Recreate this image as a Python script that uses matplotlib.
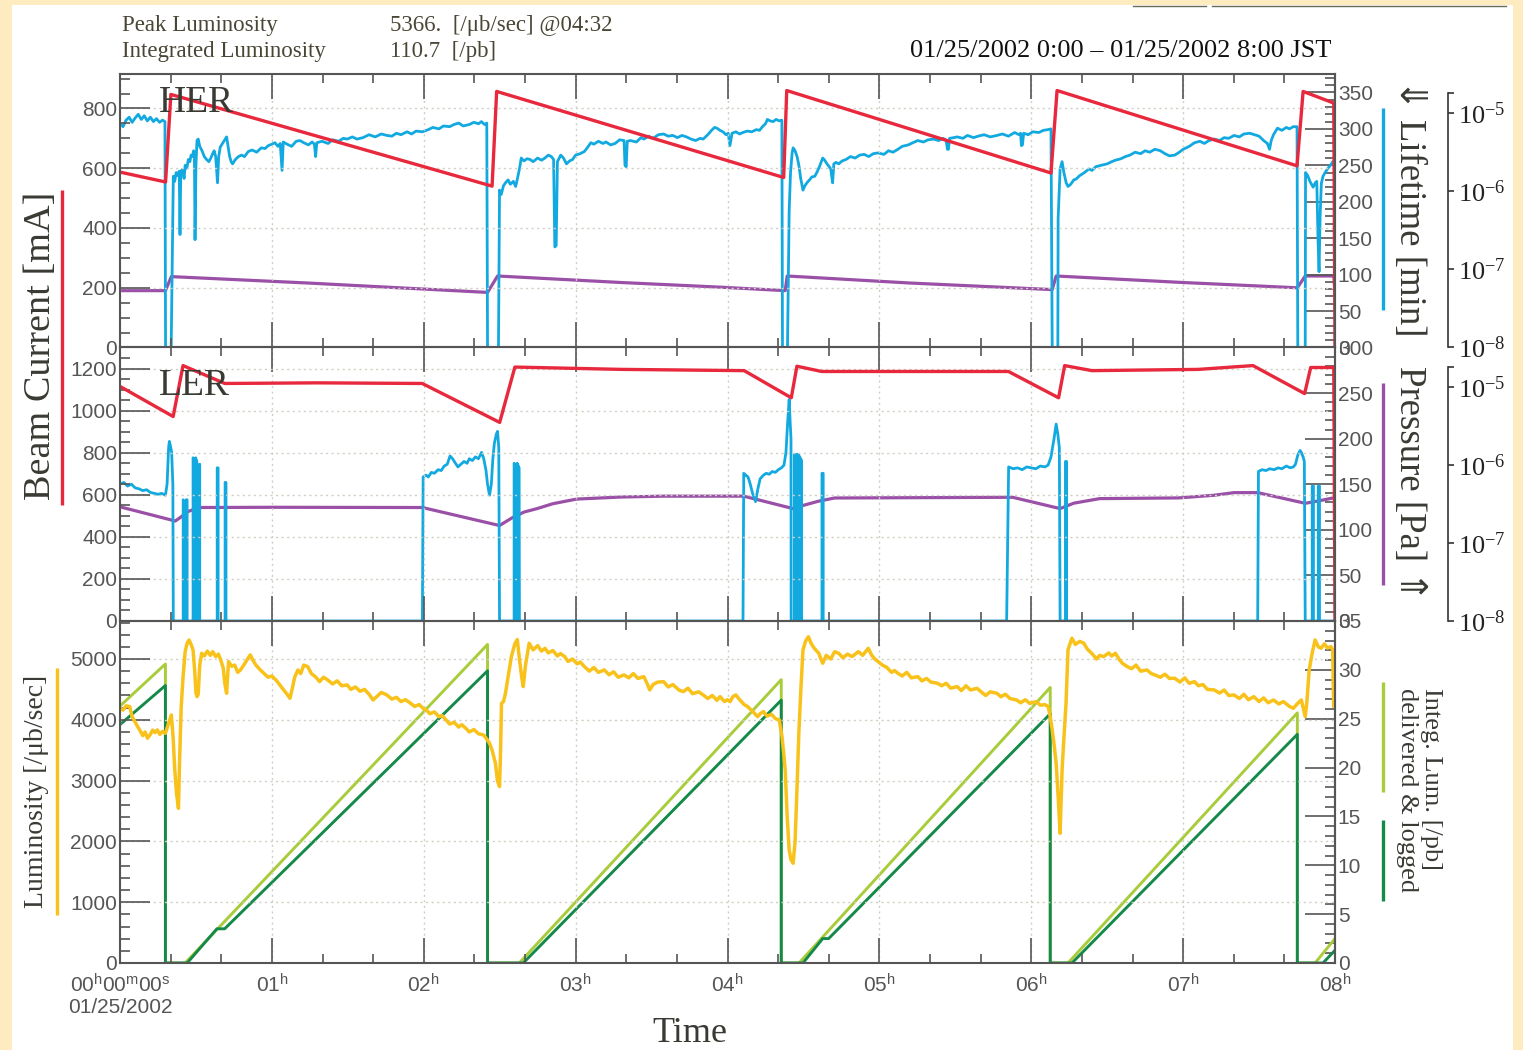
import matplotlib
matplotlib.use("Agg")
import matplotlib.pyplot as plt
from matplotlib.ticker import MultipleLocator, FixedLocator, FixedFormatter, NullLocator
from matplotlib.lines import Line2D
from matplotlib.patches import Rectangle

# ---------------------------------------------------------------- data
# time axis in hours after 01/25/2002 00:00 JST

# HER beam current [mA]
her_cur_t = [0.0, 0.300, 0.335, 2.450, 2.480, 4.370, 4.390, 6.130, 6.170, 7.750, 7.790, 7.992, 8.0]
her_cur = [587, 554, 847, 540, 857, 569, 860, 584, 860, 608, 857, 818, 0]

# HER beam lifetime [min]
her_lt_t = [
    0.00, 0.02, 0.04, 0.06, 0.08, 0.10, 0.12, 0.14, 0.16, 0.18, 0.20, 0.22, 0.24, 0.26, 0.28, 0.296,
    0.300, 0.337,
    0.351, 0.360, 0.370, 0.380, 0.390, 0.395, 0.400, 0.408, 0.416, 0.422, 0.429, 0.440, 0.450, 0.460,
    0.468, 0.476, 0.485, 0.490, 0.494, 0.500, 0.507, 0.515, 0.525, 0.540, 0.555, 0.570, 0.585, 0.598,
    0.610, 0.620, 0.630, 0.642, 0.650, 0.660, 0.675, 0.690, 0.702, 0.712, 0.722, 0.732, 0.741, 0.760,
    0.780, 0.800, 0.820, 0.845, 0.870, 0.900, 0.930, 0.955, 0.976, 1.000, 1.020, 1.040, 1.055, 1.067,
    1.075, 1.100, 1.130, 1.160, 1.184, 1.210, 1.240, 1.265, 1.280, 1.288, 1.296, 1.330, 1.370, 1.400,
    1.440, 1.470, 1.496, 1.530, 1.560, 1.600, 1.640, 1.680, 1.720, 1.757, 1.790, 1.820, 1.850, 1.890,
    1.920, 1.950, 1.991, 2.030, 2.060, 2.100, 2.130, 2.170, 2.199, 2.230, 2.260, 2.300, 2.330, 2.360,
    2.380, 2.400, 2.415,
    2.420, 2.492,
    2.499, 2.510, 2.525, 2.538, 2.555, 2.570, 2.590, 2.605, 2.616, 2.630, 2.642, 2.660, 2.680, 2.700,
    2.720, 2.750, 2.775, 2.798, 2.820, 2.840, 2.855, 2.863, 2.872, 2.880, 2.902, 2.920, 2.940, 2.960,
    2.980, 3.000, 3.030, 3.058, 3.080, 3.100, 3.120, 3.150, 3.180, 3.200, 3.230, 3.260, 3.290, 3.319,
    3.325, 3.333, 3.340, 3.360, 3.400, 3.430, 3.450, 3.480, 3.510, 3.545, 3.579, 3.610, 3.640, 3.670,
    3.700, 3.730, 3.760, 3.790, 3.820, 3.840, 3.870, 3.895, 3.915, 3.930, 3.951, 3.970, 3.990, 4.005,
    4.016, 4.030, 4.055, 4.080, 4.100, 4.130, 4.160, 4.190, 4.211, 4.230, 4.250, 4.263, 4.280, 4.300,
    4.320, 4.340, 4.358,
    4.362, 4.395,
    4.406, 4.415, 4.425, 4.432, 4.445, 4.458, 4.470, 4.482, 4.497, 4.510, 4.523, 4.540, 4.555, 4.575,
    4.590, 4.605, 4.627, 4.640, 4.655, 4.670, 4.680, 4.692, 4.700, 4.715, 4.732, 4.755, 4.780, 4.810,
    4.840, 4.870, 4.900, 4.930, 4.960, 4.992, 5.030, 5.060, 5.090, 5.122, 5.150, 5.190, 5.220, 5.253,
    5.290, 5.320, 5.357, 5.390, 5.420, 5.440, 5.448, 5.455, 5.462, 5.490, 5.513, 5.550, 5.580, 5.620,
    5.650, 5.690, 5.730, 5.774, 5.810, 5.850, 5.890, 5.920, 5.930, 5.935, 5.942, 5.950, 5.980, 6.010,
    6.050, 6.080, 6.111, 6.130,
    6.138, 6.175,
    6.177, 6.190, 6.203, 6.215, 6.230, 6.242, 6.260, 6.280, 6.294, 6.320, 6.350, 6.380, 6.400, 6.424,
    6.460, 6.500, 6.530, 6.554, 6.590, 6.620, 6.650, 6.684, 6.720, 6.750, 6.780, 6.814, 6.850, 6.880,
    6.910, 6.945, 6.975, 7.000, 7.040, 7.075, 7.110, 7.140, 7.170, 7.205, 7.240, 7.270, 7.300, 7.335,
    7.370, 7.400, 7.439, 7.470, 7.500, 7.530, 7.555, 7.569, 7.580, 7.595, 7.621, 7.650, 7.680, 7.700,
    7.725, 7.750,
    7.755, 7.804,
    7.806, 7.820, 7.835, 7.856, 7.870, 7.880, 7.888, 7.895, 7.902, 7.910, 7.921, 7.935, 7.950, 7.970,
    7.986, 8.000,
]
her_lt = [
    308, 303, 312, 316, 309, 315, 320, 313, 318, 311, 316, 310, 314, 309, 312, 310,
    0, 0,
    235, 228, 240, 236, 242, 155, 238, 244, 240, 232, 250, 246, 258, 255,
    264, 262, 270, 262, 148, 250, 284, 286, 276, 270, 262, 258, 255, 260,
    266, 270, 262, 226, 262, 275, 280, 285, 289, 275, 262, 255, 252, 258,
    262, 264, 262, 269, 271, 268, 274, 273, 277, 279, 281, 276, 280, 243,
    282, 279, 276, 283, 284, 281, 278, 282, 279, 262, 281, 283, 280, 285,
    283, 287, 286, 289, 286, 288, 292, 289, 293, 291, 290, 294, 292, 296,
    293, 297, 296, 299, 302, 300, 304, 303, 306, 308, 304, 306, 309, 307,
    310, 306, 308,
    0, 0,
    216, 210, 222, 226, 230, 224, 228, 221, 231, 245, 260, 256, 259, 258,
    255, 260, 257, 260, 264, 262, 258, 138, 140, 255, 264, 260, 252, 256,
    258, 264, 266, 269, 275, 281, 279, 283, 280, 282, 278, 280, 285, 284,
    250, 248, 283, 284, 282, 288, 286, 290, 287, 292, 293, 290, 291, 288,
    291, 289, 286, 284, 287, 286, 292, 298, 302, 301, 298, 296, 292, 294,
    277, 294, 296, 293, 295, 297, 296, 299, 298, 303, 307, 313, 311, 310,
    313, 311, 312,
    0, 0,
    187, 240, 266, 274, 270, 262, 250, 232, 216, 222, 226, 230, 234, 235,
    241, 248, 260, 257, 252, 248, 245, 226, 252, 254, 252, 256, 258, 262,
    260, 264, 265, 262, 266, 267, 265, 270, 268, 272, 276, 278, 281, 284,
    282, 285, 286, 284, 287, 284, 272, 272, 287, 288, 289, 287, 291, 288,
    290, 292, 289, 291, 293, 290, 295, 292, 294, 277, 278, 294, 292, 296,
    295, 298, 299, 300,
    0, 0,
    177, 245, 255, 240, 226, 221, 224, 230, 231, 236, 240, 245, 243, 248,
    250, 252, 255, 257, 259, 262, 264, 268, 266, 270, 268, 272, 270, 266,
    263, 264, 268, 272, 276, 281, 283, 280, 284, 286, 284, 288, 287, 291,
    289, 293, 294, 292, 290, 284, 280, 272, 284, 292, 301, 298, 302, 300,
    303, 303,
    0, 0,
    240, 236, 228, 220, 226, 228, 150, 104, 180, 225, 235, 240, 245, 250,
    255, 258,
]

# HER vacuum pressure [Pa]
her_p_t = [0.0, 0.299, 0.338, 1.236, 2.420, 2.486, 3.300, 3.951, 4.380, 4.393, 5.200, 6.138, 6.164,
           7.000, 7.752, 7.804, 7.992, 8.0]
her_p = [5.35e-8, 5.35e-8, 8.09e-8, 6.7e-8, 5.08e-8, 8.24e-8, 6.8e-8, 5.93e-8, 5.35e-8, 8.24e-8,
         6.7e-8, 5.52e-8, 8.24e-8, 6.8e-8, 5.82e-8, 8.24e-8, 8.24e-8, 5.0e-8]

# LER beam current [mA]
ler_cur_t = [0.0, 0.350, 0.415, 0.690, 1.300, 1.990, 2.500, 2.600, 3.300, 4.110, 4.420, 4.457,
             4.620, 5.850, 6.180, 6.220, 6.400, 7.100, 7.460, 7.800, 7.840, 7.992, 8.0]
ler_cur = [1115, 972, 1214, 1129, 1132, 1129, 944, 1207, 1196, 1190, 1061, 1211,
           1186, 1186, 1061, 1214, 1190, 1196, 1214, 1081, 1205, 1205, 0]

# LER beam lifetime [min]
ler_lt_t = [
    0.000, 0.025, 0.050, 0.075, 0.100, 0.125, 0.150, 0.175, 0.200, 0.225, 0.250, 0.275, 0.299, 0.310,
    0.320, 0.325, 0.332, 0.340, 0.348, 0.351,
    0.416, 0.416, 0.425, 0.430, 0.436, 0.436, 0.442, 0.442,
    0.481, 0.481, 0.490, 0.492, 0.498, 0.498, 0.506, 0.508, 0.514, 0.514, 0.525, 0.525,
    0.640, 0.640, 0.646, 0.646,
    0.692, 0.692, 0.698, 0.698,
    1.991, 1.996, 2.015, 2.030, 2.050, 2.070, 2.095, 2.115, 2.135, 2.155, 2.173, 2.190, 2.205, 2.225,
    2.245, 2.265, 2.285, 2.300, 2.320, 2.340, 2.360, 2.381, 2.395, 2.410, 2.420, 2.433, 2.445, 2.455,
    2.465, 2.478, 2.486, 2.494, 2.499,
    2.595, 2.595, 2.605, 2.607, 2.615, 2.615, 2.628, 2.630,
    4.102, 4.107, 4.120, 4.135, 4.150, 4.165, 4.185, 4.200, 4.215, 4.237, 4.255, 4.275, 4.295, 4.315,
    4.335, 4.355, 4.372, 4.385, 4.395, 4.406, 4.412, 4.418, 4.419,
    4.440, 4.440, 4.452, 4.452, 4.458, 4.458, 4.470, 4.470, 4.475, 4.475, 4.488, 4.488,
    4.622, 4.622, 4.630, 4.630,
    5.838, 5.851, 5.880, 5.910, 5.940, 5.970, 6.000, 6.030, 6.060, 6.090, 6.111, 6.130, 6.150, 6.164,
    6.175, 6.185, 6.190,
    6.225, 6.225, 6.233, 6.233,
    7.491, 7.496, 7.520, 7.545, 7.570, 7.600, 7.625, 7.650, 7.680, 7.705, 7.726, 7.740, 7.755, 7.770,
    7.778, 7.790, 7.798, 7.804,
    7.850, 7.850, 7.858, 7.858, 7.890, 7.890, 7.898, 7.898,
    8.000,
]
ler_lt = [
    150, 152, 148, 150, 146, 145, 143, 144, 141, 140, 139, 140, 138, 150,
    190, 197, 192, 185, 150, 0,
    0, 133, 128, 0, 0, 133, 133, 0,
    0, 179, 176, 0, 0, 179, 175, 0, 0, 170, 172, 0,
    0, 168, 168, 0,
    0, 152, 152, 0,
    0, 158, 160, 158, 163, 162, 166, 165, 170, 172, 181, 178, 174, 169,
    172, 175, 173, 178, 176, 180, 178, 185, 178, 165, 150, 138, 150, 178,
    195, 205, 208, 190, 0,
    0, 173, 170, 0, 0, 173, 168, 0,
    0, 162, 160, 158, 150, 140, 131, 145, 156, 160, 162, 161, 164, 163,
    166, 168, 171, 185, 215, 243, 220, 200, 0,
    0, 183, 180, 0, 0, 183, 182, 0, 0, 180, 176, 0,
    0, 162, 162, 0,
    0, 169, 167, 168, 166, 169, 168, 167, 170, 169, 171, 180, 200, 216,
    205, 190, 0,
    0, 175, 175, 0,
    0, 164, 166, 165, 167, 166, 168, 167, 170, 168, 169, 172, 182, 187,
    185, 180, 175, 0,
    0, 148, 148, 0, 0, 148, 148, 0,
    0,
]

# LER vacuum pressure [Pa]
ler_p_t = [0.0, 0.364, 0.400, 0.450, 0.520, 1.000, 1.991, 2.499, 2.580, 2.660, 2.746, 2.850, 3.006,
           3.300, 3.579, 4.107, 4.432, 4.500, 4.600, 4.705, 5.877, 6.190, 6.280, 6.450, 6.970, 7.200,
           7.335, 7.491, 7.804, 7.900, 7.986]
ler_p = [2.92e-7, 1.92e-7, 2.15e-7, 2.55e-7, 2.86e-7, 2.88e-7, 2.86e-7, 1.68e-7, 2.1e-7, 2.5e-7,
         2.77e-7, 3.2e-7, 3.67e-7, 3.9e-7, 4.0e-7, 4.0e-7, 2.77e-7, 3.05e-7, 3.45e-7, 3.79e-7,
         3.87e-7, 2.77e-7, 3.25e-7, 3.72e-7, 3.8e-7, 4.1e-7, 4.44e-7, 4.44e-7, 3.24e-7, 3.5e-7,
         3.79e-7]

# luminosity [/ub/sec]
lum_t = [
    0.000, 0.020, 0.040, 0.064, 0.080, 0.100, 0.116, 0.135, 0.150, 0.165, 0.181, 0.200, 0.215, 0.230,
    0.246, 0.262, 0.280, 0.299, 0.315, 0.330, 0.338, 0.350, 0.360, 0.372, 0.385, 0.392, 0.403, 0.415,
    0.429, 0.442, 0.455, 0.468, 0.481, 0.492, 0.500, 0.507, 0.515, 0.525, 0.538, 0.555, 0.575, 0.595,
    0.611, 0.630, 0.648, 0.663, 0.680, 0.690, 0.702, 0.708, 0.715, 0.735, 0.755, 0.775, 0.793, 0.815,
    0.840, 0.858, 0.875, 0.895, 0.924, 0.950, 0.975, 1.000, 1.027, 1.050, 1.075, 1.100, 1.119, 1.135,
    1.150, 1.171, 1.190, 1.210, 1.236, 1.260, 1.290, 1.314, 1.340, 1.370, 1.400, 1.430, 1.460, 1.496,
    1.520, 1.550, 1.580, 1.610, 1.640, 1.666, 1.690, 1.720, 1.757, 1.790, 1.820, 1.850, 1.880, 1.913,
    1.940, 1.970, 2.000, 2.017, 2.040, 2.070, 2.100, 2.120, 2.147, 2.170, 2.200, 2.230, 2.250, 2.277,
    2.300, 2.330, 2.360, 2.394, 2.410, 2.433, 2.450, 2.472, 2.485, 2.499, 2.505, 2.512, 2.525, 2.538,
    2.555, 2.577, 2.600, 2.616, 2.630, 2.645, 2.655, 2.670, 2.694, 2.720, 2.750, 2.775, 2.798, 2.820,
    2.850, 2.880, 2.900, 2.928, 2.950, 2.980, 3.010, 3.030, 3.058, 3.090, 3.120, 3.150, 3.189, 3.220,
    3.250, 3.280, 3.319, 3.350, 3.380, 3.410, 3.449, 3.470, 3.488, 3.510, 3.540, 3.579, 3.610, 3.640,
    3.680, 3.709, 3.740, 3.770, 3.810, 3.840, 3.870, 3.900, 3.930, 3.951, 3.980, 4.000, 4.017, 4.035,
    4.055, 4.080, 4.110, 4.133, 4.160, 4.180, 4.198, 4.215, 4.237, 4.260, 4.290, 4.315, 4.341, 4.359,
    4.370, 4.380, 4.393, 4.406, 4.418, 4.432, 4.445, 4.458, 4.470, 4.484, 4.497, 4.515, 4.533, 4.550,
    4.570, 4.601, 4.615, 4.627, 4.650, 4.680, 4.705, 4.732, 4.760, 4.790, 4.820, 4.862, 4.890, 4.927,
    4.950, 4.970, 4.992, 5.020, 5.050, 5.080, 5.100, 5.122, 5.150, 5.180, 5.210, 5.253, 5.280, 5.310,
    5.340, 5.383, 5.410, 5.440, 5.470, 5.513, 5.540, 5.570, 5.600, 5.643, 5.670, 5.700, 5.730, 5.774,
    5.800, 5.830, 5.860, 5.904, 5.930, 5.960, 5.990, 6.034, 6.060, 6.090, 6.112, 6.125, 6.138, 6.150,
    6.164, 6.178, 6.190, 6.203, 6.215, 6.229, 6.242, 6.255, 6.268, 6.290, 6.320, 6.346, 6.370, 6.398,
    6.430, 6.450, 6.476, 6.510, 6.530, 6.554, 6.580, 6.600, 6.632, 6.660, 6.690, 6.720, 6.762, 6.790,
    6.814, 6.850, 6.880, 6.910, 6.945, 6.980, 7.010, 7.040, 7.075, 7.100, 7.130, 7.160, 7.205, 7.240,
    7.270, 7.300, 7.335, 7.370, 7.400, 7.430, 7.465, 7.500, 7.530, 7.560, 7.595, 7.630, 7.660, 7.700,
    7.726, 7.750, 7.778, 7.790, 7.804, 7.815, 7.830, 7.850, 7.869, 7.890, 7.908, 7.930, 7.950, 7.973,
    7.985, 7.991, 8.000,
]
lum = [
    4190, 4160, 4230, 4217, 4050, 3960, 3888, 3810, 3740, 3800, 3696, 3760, 3830, 3790,
    3833, 3760, 3810, 3778, 3900, 4020, 4080, 3700, 3200, 2791, 2544, 3300, 4217, 4700,
    5121, 5260, 5313, 5240, 5149, 4800, 4450, 4381, 4420, 4900, 5094, 5050, 5130, 5060,
    5121, 5040, 5080, 4984, 4850, 4600, 4436, 4700, 4957, 4880, 4900, 4780, 4820, 4900,
    5000, 5067, 4980, 4900, 4820, 4760, 4700, 4720, 4655, 4580, 4500, 4420, 4354, 4520,
    4700, 4820, 4760, 4900, 4875, 4760, 4700, 4628, 4700, 4650, 4590, 4640, 4560, 4573,
    4500, 4540, 4470, 4500, 4420, 4326, 4380, 4450, 4409, 4340, 4370, 4300, 4330, 4272,
    4220, 4250, 4180, 4162, 4100, 4130, 4050, 4070, 3997, 3930, 3960, 3880, 3920, 3860,
    3800, 3840, 3770, 3751, 3700, 3614, 3500, 3285, 3000, 2901, 3400, 4272, 4300, 4436,
    4700, 5039, 5250, 5320, 5000, 4700, 4546, 4900, 5259, 5150, 5220, 5130, 5176, 5100,
    5140, 5050, 5090, 5039, 4960, 5000, 4920, 4950, 4875, 4800, 4860, 4780, 4820, 4740,
    4790, 4700, 4738, 4690, 4760, 4680, 4710, 4600, 4491, 4580, 4620, 4628, 4540, 4580,
    4490, 4463, 4520, 4430, 4460, 4409, 4350, 4400, 4320, 4381, 4300, 4330, 4299, 4380,
    4409, 4330, 4250, 4217, 4150, 4100, 4052, 4100, 4135, 4060, 4090, 4020, 3997, 3723,
    3450, 3175, 2400, 1859, 1700, 1640, 2000, 2901, 3800, 4546, 5149, 5300, 5366, 5260,
    5180, 5094, 5000, 4930, 5060, 5000, 5120, 5094, 5020, 5080, 5040, 5121, 5060, 5176,
    5060, 5000, 4957, 4900, 4860, 4780, 4810, 4765, 4720, 4780, 4690, 4710, 4640, 4680,
    4620, 4601, 4560, 4600, 4520, 4546, 4480, 4560, 4490, 4518, 4460, 4400, 4460, 4436,
    4380, 4420, 4350, 4326, 4280, 4330, 4270, 4299, 4240, 4250, 4217, 4050, 3833, 3600,
    3285, 2700, 2133, 3175, 3700, 4272, 5149, 5250, 5341, 5240, 5290, 5259, 5160, 5094,
    5000, 5060, 5039, 5100, 5050, 5094, 4990, 4930, 4875, 4840, 4900, 4800, 4820, 4760,
    4738, 4700, 4750, 4680, 4683, 4620, 4690, 4600, 4628, 4560, 4580, 4500, 4491, 4440,
    4490, 4400, 4409, 4350, 4420, 4330, 4381, 4300, 4360, 4280, 4326, 4260, 4300, 4220,
    4189, 4260, 4326, 4200, 4052, 4300, 4820, 5100, 5313, 5200, 5176, 5250, 5180, 5204,
    5150, 4217, 4217,
]

# integrated luminosity [/pb]: delivered and logged
intl_del_t = [0.0, 0.299, 0.299, 0.429, 2.420, 2.420, 2.629, 4.354, 4.354, 4.471, 6.125, 6.125,
              6.242, 7.752, 7.752, 7.869, 8.0]
intl_del = [26.3, 30.6, 0, 0, 32.6, 0, 0, 29.0, 0, 0, 28.2, 0, 0, 25.6, 0, 0, 2.5]
intl_log_t = [0.0, 0.299, 0.299, 0.442, 0.638, 0.689, 2.420, 2.420, 2.655, 4.354, 4.354, 4.497,
              4.627, 4.666, 6.125, 6.125, 6.268, 7.752, 7.752, 7.921, 8.0]
intl_log = [24.4, 28.4, 0, 0, 3.5, 3.5, 29.9, 0, 0, 26.9, 0, 0, 2.5, 2.5, 25.5, 0, 0, 23.4, 0, 0, 1.3]

hour_ticks = [0, 1, 2, 3, 4, 5, 6, 7, 8]
hour_labels = ["00$^{\\mathsf{h}}$00$^{\\mathsf{m}}$00$^{\\mathsf{s}}$\n01/25/2002",
               "01$^{\\mathsf{h}}$", "02$^{\\mathsf{h}}$", "03$^{\\mathsf{h}}$", "04$^{\\mathsf{h}}$",
               "05$^{\\mathsf{h}}$", "06$^{\\mathsf{h}}$", "07$^{\\mathsf{h}}$", "08$^{\\mathsf{h}}$"]
decade_ticks = [1e-8, 1e-7, 1e-6, 1e-5]
decade_labels = ["10$^{-8}$", "10$^{-7}$", "10$^{-6}$", "10$^{-5}$"]

# ---------------------------------------------------------------- style
W, H = 1523, 1050
SERIF = ["Liberation Serif", "DejaVu Serif"]
SANS = ["Liberation Sans", "DejaVu Sans"]
plt.rcParams["font.family"] = SANS
plt.rcParams["mathtext.fontset"] = "custom"
plt.rcParams["mathtext.rm"] = "Liberation Serif"
plt.rcParams["mathtext.sf"] = "Liberation Sans"
plt.rcParams["mathtext.default"] = "rm"

RED = "#E8283C"
CYAN = "#12A9E0"
PURPLE = "#9B50A8"
YELLOW = "#F8C21A"
LGREEN = "#A8CC3A"
DGREEN = "#148A4A"
AXC = "#555555"
TXT = "#3a3a34"
PALE = "#FFEBC0"
GRID = "#cfcfc4"

fig = plt.figure(figsize=(W / 100, H / 100), dpi=100)
fig.patch.set_facecolor("white")


def fx(x):
    return x / W


def fy(y):
    return 1 - y / H


# pale page border
for (x0, y0, x1, y1) in [(0, 0, 12, H), (0, 0, W, 5), (1513, 0, W, H)]:
    fig.add_artist(Rectangle((fx(x0), fy(y1)), (x1 - x0) / W, (y1 - y0) / H,
                             transform=fig.transFigure, color=PALE, zorder=-10, lw=0))
for (x0, x1) in [(1133, 1206), (1212, 1506)]:
    fig.add_artist(Line2D([fx(x0), fx(x1)], [fy(6), fy(6)], color="#6a6a5a", lw=1.0))


def panel(y0, y1):
    return fig.add_axes([fx(120), fy(y1), (1335 - 120) / W, (y1 - y0) / H])


def style_host(ax, ymax, major, minor, show_x_labels=False):
    ax.set_xlim(0, 8)
    ax.set_ylim(0, ymax)
    ax.xaxis.set_major_locator(FixedLocator(hour_ticks))
    ax.xaxis.set_minor_locator(MultipleLocator(1 / 3))
    ax.yaxis.set_major_locator(MultipleLocator(major))
    ax.yaxis.set_minor_locator(MultipleLocator(minor))
    ax.tick_params(axis="x", which="major", direction="in", length=18, width=1.2, color=AXC,
                   top=True, bottom=True, labelbottom=show_x_labels, labelsize=15,
                   labelcolor="#555555", pad=7)
    ax.tick_params(axis="x", which="minor", direction="in", length=6.5, width=1.2, color=AXC,
                   top=True, bottom=True)
    ax.tick_params(axis="y", which="major", direction="in", length=21.6, width=1.2, color=AXC,
                   left=True, right=False, labelsize=15, labelcolor="#555555", pad=2)
    ax.tick_params(axis="y", which="minor", direction="in", length=7.2, width=1.2, color=AXC,
                   left=True, right=False)
    ax.grid(True, which="major", color=GRID, ls=(0, (1.5, 2.5)), lw=1.0)
    for s in ax.spines.values():
        s.set_color(AXC)
        s.set_linewidth(1.5)
    ax.patch.set_visible(False)
    ax.set_zorder(3)
    if show_x_labels:
        ax.xaxis.set_major_formatter(FixedFormatter(hour_labels))


def style_right(ax, ymax, major, minor):
    ax.set_ylim(0, ymax)
    ax.yaxis.set_major_locator(MultipleLocator(major))
    ax.yaxis.set_minor_locator(MultipleLocator(minor))
    ax.tick_params(axis="y", which="major", direction="in", length=21.6, width=1.2, color=AXC,
                   labelsize=15, labelcolor="#555555", pad=2)
    ax.tick_params(axis="y", which="minor", direction="in", length=7.2, width=1.2, color=AXC)
    for name, s in ax.spines.items():
        s.set_visible(name == "right")
        s.set_color(AXC)
        s.set_linewidth(1.5)
    ax.set_zorder(2)


def pressure_axis(host):
    ax = host.twinx()
    ax.set_yscale("log")
    ax.set_ylim(1e-8, 10 ** -4.49)
    for name, s in ax.spines.items():
        s.set_visible(name == "right")
    sp = ax.spines["right"]
    sp.set_position(("axes", (1448 - 120) / 1215))
    sp.set_bounds(1e-8, 10 ** -4.74)
    sp.set_color("#333333")
    sp.set_linewidth(1.2)
    ax.yaxis.set_major_locator(FixedLocator(decade_ticks + [10 ** -4.74]))
    ax.yaxis.set_major_formatter(FixedFormatter(decade_labels + [""]))
    ax.yaxis.set_minor_locator(NullLocator())
    ax.tick_params(axis="y", which="major", direction="out", length=4.5, width=1.2,
                   color="#333333", labelsize=19, labelcolor="#222222", pad=3,
                   labelfontfamily="Liberation Serif")
    ax.set_zorder(1)
    return ax


# ---------------------------------------------------------------- HER panel
ax_her = panel(73.5, 347.5)
style_host(ax_her, 917, 200, 50)
ax_her_lt = ax_her.twinx()
style_right(ax_her_lt, 376, 50, 10)
ax_her_p = pressure_axis(ax_her)
ax_her_p.plot(her_p_t, her_p, color=PURPLE, lw=2.3)
ax_her_lt.plot(her_lt_t, her_lt, color=CYAN, lw=2.0)
ax_her.plot(her_cur_t, her_cur, color=RED, lw=2.4)

# ---------------------------------------------------------------- LER panel
ax_ler = panel(347.5, 621)
style_host(ax_ler, 1300, 200, 50)
ax_ler_lt = ax_ler.twinx()
style_right(ax_ler_lt, 300, 50, 10)
ax_ler_p = pressure_axis(ax_ler)
ax_ler_p.plot(ler_p_t, ler_p, color=PURPLE, lw=2.3)
ax_ler_lt.plot(ler_lt_t, ler_lt, color=CYAN, lw=2.0)
ax_ler.plot(ler_cur_t, ler_cur, color=RED, lw=2.4)

# ---------------------------------------------------------------- luminosity panel
ax_lum = panel(621, 963)
style_host(ax_lum, 5625, 1000, 200, show_x_labels=True)
ax_int = ax_lum.twinx()
style_right(ax_int, 35, 5, 1)
ax_int.plot(intl_del_t, intl_del, color=LGREEN, lw=2.1)
ax_int.plot(intl_log_t, intl_log, color=DGREEN, lw=2.1)
ax_lum.plot(lum_t, lum, color=YELLOW, lw=2.5)

# ---------------------------------------------------------------- texts
ftx = dict(family=SERIF)
fig.text(fx(122), fy(31), "Peak Luminosity", fontsize=16.5, color="#4a4636", **ftx)
fig.text(fx(122), fy(57.5), "Integrated Luminosity", fontsize=16.5, color="#4a4636", **ftx)
fig.text(fx(390), fy(31), "5366.  [/\u03bcb/sec] @04:32", fontsize=16.5, color="#4a4636", **ftx)
fig.text(fx(390), fy(57.5), "110.7  [/pb]", fontsize=16.5, color="#4a4636", **ftx)
fig.text(fx(1332), fy(57), "01/25/2002 0:00 \u2013 01/25/2002 8:00 JST", fontsize=19,
         color="#111111", ha="right", **ftx)

fig.text(fx(159), fy(112), "HER", fontsize=27, color=TXT, **ftx)
fig.text(fx(159), fy(395), "LER", fontsize=27, color=TXT, **ftx)
fig.text(fx(690), fy(1042), "Time", fontsize=26, color=TXT, ha="center", **ftx)

fig.text(fx(41), fy(346), "Beam Current [mA]", fontsize=27.5, color=TXT, rotation=90,
         ha="center", va="center", **ftx)
fig.text(fx(37), fy(791), "Luminosity [/\u03bcb/sec]", fontsize=20, color=TXT, rotation=90,
         ha="center", va="center", **ftx)
# axis titles read top-to-bottom, each led/trailed by a double arrow toward its scale
fig.text(fx(1409), fy(208), "\u21d3 Lifetime [min]", fontsize=26.5, color=TXT, rotation=-90,
         ha="center", va="center", family=["Liberation Serif", "DejaVu Sans"])
fig.text(fx(1409), fy(484), "Pressure [Pa] \u21d1", fontsize=26.5, color=TXT, rotation=-90,
         ha="center", va="center", family=["Liberation Serif", "DejaVu Sans"])
fig.text(fx(1419), fy(790), "Integ. Lum. [/pb]\ndelivered & logged", fontsize=19, color=TXT,
         rotation=-90, ha="center", va="center", multialignment="left", linespacing=1.1, **ftx)

# colour keys beside the axis titles
for (x, y0, y1, c) in [(62, 190, 505, RED), (57, 668, 915, YELLOW), (1383, 108, 310, CYAN),
                       (1383, 383, 585, PURPLE), (1383, 682, 792, LGREEN),
                       (1383, 820, 901, DGREEN)]:
    fig.add_artist(Line2D([fx(x), fx(x)], [fy(y0), fy(y1)], color=c, lw=2.4,
                          solid_capstyle="butt"))

fig.savefig("out.png", dpi=100)
